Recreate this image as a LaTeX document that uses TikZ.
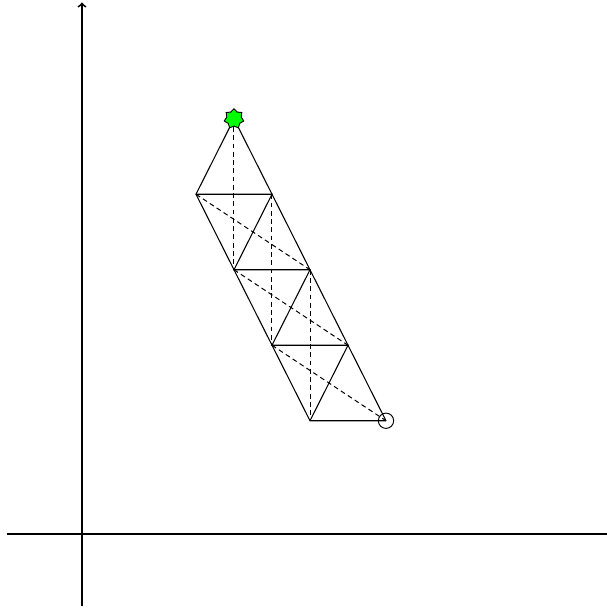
\documentclass[tikz,border=0pt]{standalone}
\usepackage{xcolor}
\usetikzlibrary{shapes,arrows,positioning,calc}
\definecolor{stargreen}{RGB}{0,255,0}

\begin{document}
\begin{tikzpicture}[
    x=57pt, y=56.625pt,
    edge/.style={draw, line width=0.8pt},
    hidden/.style={draw, dash pattern=on 3.6pt off 2.6pt, line width=0.75pt},
    axis/.style={draw, line width=1.4pt},
    startmark/.style={star, star points=7, star point ratio=1.35, draw, fill=stargreen, minimum size=15pt, inner sep=0pt, line width=0.7pt},
    endmark/.style={circle, draw, minimum size=11.5pt, inner sep=0pt, line width=0.7pt},
    >=to
]
    \useasboundingbox (-82*0.75pt,-74*0.75pt) rectangle (525*0.75pt,534*0.75pt);

    % lattice points
    \coordinate (top) at (2,5.5);
    \coordinate (a1) at (1.5,4.5);
    \coordinate (a2) at (2.5,4.5);
    \coordinate (b1) at (2,3.5);
    \coordinate (b2) at (3,3.5);
    \coordinate (c1) at (2.5,2.5);
    \coordinate (c2) at (3.5,2.5);
    \coordinate (d1) at (3,1.5);
    \coordinate (d2) at (4,1.5);

    % axes
    \coordinate (xstart) at (-75*0.75pt,0);
    \coordinate (xend) at (525*0.75pt,0);
    \coordinate (ystart) at (0,-72*0.75pt);
    \coordinate (yend) at (0,531.5*0.75pt);
    \draw[axis] (xstart) -- (xend);
    \draw[axis, ->] (ystart) -- (yend);

    % dashed lines
    \draw[hidden] (top) -- (b1);
    \draw[hidden] (a2) -- (c1);
    \draw[hidden] (b2) -- (d1);
    \draw[hidden] (a1) -- (b2);
    \draw[hidden] (b1) -- (c2);
    \draw[hidden] (c1) -- (d2);

    % strip
    \draw[edge] (top) -- (a1) -- (b1) -- (c1) -- (d1) -- (d2);
    \draw[edge] (top) -- (a2) -- (b2) -- (c2) -- (d2);
    \draw[edge] (a1) -- (a2) -- (b1) -- (b2) -- (c1) -- (c2) -- (d1);

    \node[startmark] (startpt) at (top) {};
    \node[endmark] (endpt) at (d2) {};
\end{tikzpicture}
\end{document}
